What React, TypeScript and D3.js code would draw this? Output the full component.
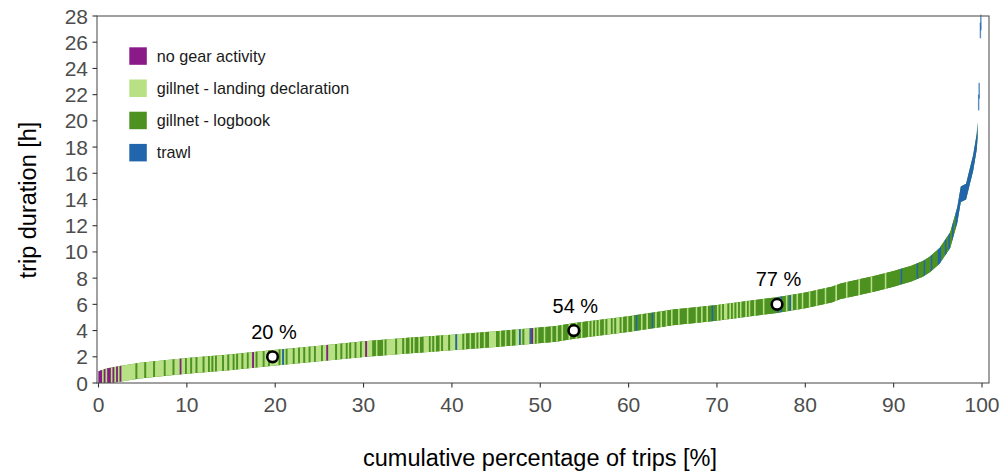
import React from "react";
import * as d3 from "d3";

// ---- data ----
// quantile curve: cumulative percentage of trips -> trip duration (h)
const curvePct = [0, 0.5, 1, 2.4, 4.7, 10, 14.8, 19.8, 25, 30, 35, 40, 45, 51.8, 53.8, 60, 65, 70, 76.8, 80, 83, 84, 86, 88, 90, 92, 93.3, 94.1, 95.2, 96.4, 97.2, 97.6, 98.2, 98.6, 99, 99.4, 99.5];
const curveDur = [0.3, 0.42, 0.52, 0.7, 0.95, 1.31, 1.57, 1.92, 2.25, 2.58, 2.85, 3.09, 3.35, 3.75, 3.97, 4.5, 5.0, 5.35, 5.95, 6.3, 6.75, 7.0, 7.3, 7.6, 7.95, 8.35, 8.7, 9.05, 9.7, 10.9, 12.8, 14.4, 14.6, 15.7, 16.8, 18.4, 19.3];

// isolated longest trips (percent, duration)
const tailPct = [99.62, 99.68, 99.82, 99.87];
const tailDur = [21.4, 22.3, 26.9, 27.5];

// gear category along the x axis, one code per 0.2 % (one string per 10 %)
// P = no gear activity, L = gillnet - landing declaration, D = gillnet - logbook, B = trawl
const gearStrips = [
  "PPLPLPPLPL" + "PLPLLLLLLL" + "LDLLLLDLLL" + "LDLLLLLDLL" + "LLDLLLPLLD",
  "LLDLLDLLLD" + "LLDLDLDLLL" + "DLLDLLDLDL" + "LDLLDLLPLD" + "LLLDLLDLLL",
  "LLDLBLDLLL" + "DLLDLLDLLD" + "LLDLLLDLLP" + "LLLLDLLDLL" + "DLDLLDLLDL",
  "LPLLLDDLDD" + "DLDLLLLLDL" + "LLDLDDLDLD" + "DLDDLLLDLD" + "LDDLDLLLDL",
  "LLBLLLDLDD" + "LDDLDLDDLD" + "DLLLLDDLDD" + "LDDLDDLLBL" + "DLLLBPLDLD",
  "DDLDDDLDDL" + "DDLDDDLDDD" + "LDDLDDDLDL" + "DLDLDDLDLL" + "DLDLLDLDDL",
  "DDLDBDDLDD" + "LDDBDLDDLD" + "DLDDLDDDLD" + "DDDLDDDDLD" + "DLDDLDDBDD",
  "LDLDLLDLDL" + "DLDLDDLDLD" + "DLDDDDLDDD" + "DDDDBDBDDL" + "DBLDDLDDLD",
  "DDLDDDLDDD" + "DLDDDDDLDD" + "DDDLDDDDDD" + "LDDDDDDLDD" + "DDDDDLDDDD",
  "DDDDBDDDDD" + "DDDBDDDBDD" + "DBDDDBBDDB" + "DBDBDBBBBB" + "BBBBBBBBBB",
];

const legendCodes = ["P", "L", "D", "B"];
const legendLabels = ["no gear activity", "gillnet - landing declaration", "gillnet - logbook", "trawl"];
const gearColors: Record<string, string> = { P: "#8B1A89", L: "#B8E186", D: "#4D9221", B: "#2166AC" };

const markerPct = [19.7, 53.8, 76.8];
const markerDur = [2, 4, 6];
const markerLabels = ["20 %", "54 %", "77 %"];

const xTicks = [0, 10, 20, 30, 40, 50, 60, 70, 80, 90, 100];
const yTicks = [0, 2, 4, 6, 8, 10, 12, 14, 16, 18, 20, 22, 24, 26, 28];

const xTitle = "cumulative percentage of trips [%]";
const yTitle = "trip duration [h]";

// ---- layout ----
const W = 1004;
const H = 473;
const panel = { left: 97, right: 989, top: 16, bottom: 383 };
const HALF = 0.6; // half-height of each trip's bar (h)
const FONT = "'Liberation Sans', Arial, Helvetica, sans-serif";

export default function App() {
  const x = d3.scaleLinear().domain([0, 100]).range([98.5, 982]);
  const y = d3.scaleLinear().domain([0, 28]).range([panel.bottom, panel.top]);
  const dur = d3.scaleLinear().domain(curvePct).range(curveDur);
  const maxP = curvePct[curvePct.length - 1];

  const band = d3
    .area<number>()
    .x((p) => x(p))
    .y0((p) => y(Math.max(0, dur(p) - HALF)))
    .y1((p) => y(dur(p) + HALF));

  const pointsBetween = (p0: number, p1: number) => {
    const inner = curvePct.filter((p) => p > p0 && p < p1);
    return [p0, ...inner, p1];
  };

  // merge strip codes into runs
  const runs: { p0: number; p1: number; code: string }[] = [];
  gearStrips.forEach((s, li) => {
    const w = 10 / s.length;
    for (let i = 0; i < s.length; i++) {
      const p0 = li * 10 + i * w;
      const p1 = p0 + w;
      const c = s[i];
      const last = runs[runs.length - 1];
      if (last && last.code === c && Math.abs(last.p1 - p0) < 1e-9) last.p1 = p1;
      else runs.push({ p0, p1, code: c });
    }
  });

  const basePath = band(pointsBetween(0, maxP)) || "";

  return (
    <svg
      width={W}
      height={H}
      style={{ position: "absolute", left: 0, top: 0, background: "#fff" }}
      fontFamily={FONT}
    >
      <rect x={0} y={0} width={W} height={H} fill="#fff" />
      {/* band */}
      <path d={basePath} fill={gearColors.D} />
      {runs
        .filter((r) => r.p0 < maxP)
        .map((r, i) => (
          <path
            key={i}
            d={band(pointsBetween(r.p0, Math.min(r.p1, maxP))) || ""}
            fill={gearColors[r.code]}
          />
        ))}
      {tailPct.map((p, i) => (
        <rect
          key={"t" + i}
          x={x(p) - 0.7}
          width={1.4}
          y={y(tailDur[i] + HALF)}
          height={y(tailDur[i] - HALF) - y(tailDur[i] + HALF)}
          fill={gearColors.B}
          opacity={0.75}
        />
      ))}

      {/* markers */}
      {markerPct.map((p, i) => (
        <g key={"m" + i}>
          <circle cx={x(p)} cy={y(markerDur[i])} r={5.3} fill="#fff" stroke="#000" strokeWidth={2.6} />
          <text
            x={x(p) + 1.5}
            y={y(markerDur[i]) - 18}
            textAnchor="middle"
            fontSize={20}
            fill="#000"
          >
            {markerLabels[i]}
          </text>
        </g>
      ))}

      {/* panel border */}
      <rect
        x={panel.left}
        y={panel.top}
        width={panel.right - panel.left}
        height={panel.bottom - panel.top}
        fill="none"
        stroke="#555"
        strokeWidth={1.1}
      />

      {/* x axis */}
      {xTicks.map((t) => (
        <g key={"x" + t}>
          <line x1={x(t)} x2={x(t)} y1={panel.bottom} y2={panel.bottom + 4.5} stroke="#333" strokeWidth={1.1} />
          <text x={x(t)} y={panel.bottom + 28.5} textAnchor="middle" fontSize={21} fill="#4d4d4d">
            {t}
          </text>
        </g>
      ))}
      {/* y axis */}
      {yTicks.map((t) => (
        <g key={"y" + t}>
          <line x1={panel.left - 4.5} x2={panel.left} y1={y(t)} y2={y(t)} stroke="#333" strokeWidth={1.1} />
          <text x={panel.left - 9} y={y(t) + 7.5} textAnchor="end" fontSize={21} fill="#4d4d4d">
            {t}
          </text>
        </g>
      ))}

      {/* titles */}
      <text x={540} y={466} textAnchor="middle" fontSize={23.5} fill="#000">
        {xTitle}
      </text>
      <text
        transform={`translate(36,200) rotate(-90)`}
        textAnchor="middle"
        fontSize={23.5}
        fill="#000"
      >
        {yTitle}
      </text>

      {/* legend */}
      {legendCodes.map((c, i) => (
        <g key={"l" + c} transform={`translate(129.3,${47.3 + i * 32.2})`}>
          <rect x={0} y={0} width={17.5} height={17.5} fill={gearColors[c]} />
          <text x={27.4} y={14.3} fontSize={16.2} fill="#1a1a1a">
            {legendLabels[i]}
          </text>
        </g>
      ))}
    </svg>
  );
}
